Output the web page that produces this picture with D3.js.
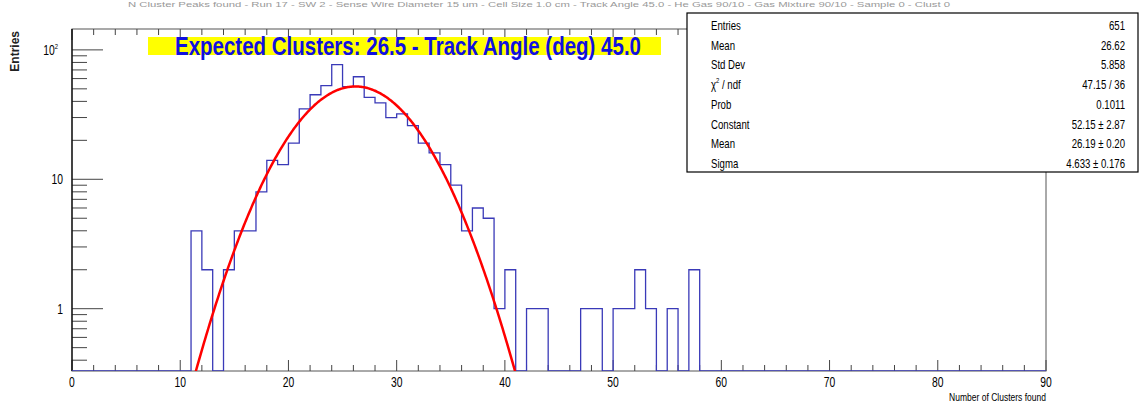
<!DOCTYPE html>
<html>
<head>
<meta charset="utf-8">
<script src="https://cdn.jsdelivr.net/npm/d3@7"></script>
<style>
  body { margin: 0; background: #fff; }
  text { font-family: "Liberation Sans", Arial, sans-serif; }
</style>
</head>
<body>
<div id="chart"></div>
<script>
// histogram: Number of Clusters found, bins of width 1
var firstBin = 11;
var counts = [4, 2, 0, 2, 4, 4, 8, 14, 13, 19, 35, 45, 53, 77, 52, 62, 43, 39, 30, 32,
              26, 19, 16, 13, 9, 4, 6, 5, 1, 2, 0, 1, 1, 0, 0, 0, 1, 1, 0, 1,
              1, 2, 1, 0, 1, 0, 2];

// gaussian fit parameters (from the stats box)
var fitConst = 52.15, fitMean = 26.19, fitSigma = 4.633;
var fitRange = [11, 41];

var xTicks = [0, 10, 20, 30, 40, 50, 60, 70, 80, 90];
var yMajor = [1, 10, 100];
var yLabels = ["1", "10", "10"];

var statLabels = ["Entries", "Mean", "Std Dev", "chi", "Prob", "Constant", "Mean", "Sigma"];
var statValues = ["651", "26.62", "5.858", "47.15 / 36", "0.1011", "52.15 \u00b1 2.87", "26.19 \u00b1 0.20", "4.633 \u00b1 0.176"];

var titleText = "N Cluster Peaks found - Run 17 - SW 2 - Sense Wire Diameter 15 um - Cell Size 1.0 cm - Track Angle 45.0 - He Gas 90/10 - Gas Mixture 90/10 - Sample 0 - Clust 0";
var boxText = "Expected Clusters: 26.5 - Track Angle (deg) 45.0";

var W = 1142, H = 403;
var SX = 0.74;   // everything in the picture is squeezed sideways

var svg = d3.select("#chart").append("svg")
    .attr("width", W).attr("height", H);

var x = d3.scaleLinear().domain([0, 90]).range([72, 1046]);
var y = d3.scaleLog().domain([0.33, 145]).range([371, 29]);

function label(g, tx, ty, str, size, anchor) {
  return g.append("text")
      .attr("transform", "translate(" + tx + "," + ty + ") scale(" + SX + ",1)")
      .attr("text-anchor", anchor || "start")
      .attr("font-size", size)
      .text(str);
}

// faint title at the very top
svg.append("text")
    .attr("x", 128).attr("y", 7)
    .attr("font-size", 7.5)
    .attr("fill", "#999")
    .attr("textLength", 822)
    .attr("lengthAdjust", "spacingAndGlyphs")
    .text(titleText);

svg.append("clipPath").attr("id", "plot")
  .append("rect")
    .attr("x", 72).attr("y", 29)
    .attr("width", 1046 - 72).attr("height", 371 - 29);

// frame
svg.append("rect")
    .attr("x", 72).attr("y", 29)
    .attr("width", 1046 - 72).attr("height", 371 - 29)
    .attr("style", "fill: none; stroke: #555; stroke-width: 1;");

// x ticks bottom and top
var axes = svg.append("g").attr("style", "stroke: #444; stroke-width: 1;");
d3.range(0, 91, 2).map((v) => {
  var len = (v % 10 == 0) ? 11 : 6;
  axes.append("line")
      .attr("x1", x(v)).attr("x2", x(v))
      .attr("y1", 371).attr("y2", 371 - len);
  axes.append("line")
      .attr("x1", x(v)).attr("x2", x(v))
      .attr("y1", 29).attr("y2", 29 + len);
});

// y ticks (log)
var yMinor = [];
[0.1, 1, 10].map((d) => {
  d3.range(2, 10).map((k) => {
    var v = d * k;
    if (v > 0.33 && v < 145) yMinor.push(v);
  });
});
yMinor.map((v) => {
  axes.append("line")
      .attr("x1", 72).attr("x2", 87)
      .attr("y1", y(v)).attr("y2", y(v));
});
yMajor.map((v) => {
  axes.append("line")
      .attr("x1", 72).attr("x2", 103)
      .attr("y1", y(v)).attr("y2", y(v));
});

svg.append("line")
    .attr("x1", 72).attr("x2", 72)
    .attr("y1", 29).attr("y2", 371)
    .attr("style", "stroke: black; stroke-width: 1.2;");

// tick labels
var tl = svg.append("g");
xTicks.map((v) => {
  label(tl, x(v), 387, String(v), 14, "middle");
});
yMajor.map((v, i) => {
  var t = label(tl, i == 2 ? 58 : 63, y(v) + 5, yLabels[i], 14, "end");
  if (i == 2)
    t.append("tspan").attr("font-size", 8).attr("dy", -6).text("2");
});

// axis titles
label(svg, 1046, 401, "Number of Clusters found", 11.5, "end");
svg.append("text")
    .attr("transform", "translate(19,31) rotate(-90)")
    .attr("text-anchor", "end")
    .attr("font-size", 12)
    .attr("font-weight", "bold")
    .attr("fill", "#222")
    .text("Entries");

// histogram as a step line, empty bins sit on the bottom edge
var bins = d3.range(0, 90).map((i) => {
  var c = (i >= firstBin && i < firstBin + counts.length) ? counts[i - firstBin] : 0;
  return { lo: i, n: c };
});
bins.push({ lo: 90, n: 0 });

var hline = d3.line()
    .x((d) => x(d.lo))
    .y((d) => d.n > 0 ? y(d.n) : y.range()[0])
    .curve(d3.curveStepAfter);

svg.append("path")
    .datum(bins)
    .attr("d", hline)
    .attr("clip-path", "url(#plot)")
    .attr("style", "fill: none; stroke: #3a3ab8; stroke-width: 1.3;");

// gaussian fit curve
var fitX = d3.range(fitRange[0], fitRange[1] + 0.001, 0.1);
var fline = d3.line()
    .x((v) => x(v))
    .y((v) => y(fitConst * Math.exp(-0.5 * Math.pow((v - fitMean) / fitSigma, 2))));

svg.append("path")
    .datum(fitX)
    .attr("d", fline)
    .attr("clip-path", "url(#plot)")
    .attr("style", "fill: none; stroke: #ff0000; stroke-width: 2.5;");

// yellow label
svg.append("rect")
    .attr("x", 148).attr("y", 37)
    .attr("width", 661 - 148).attr("height", 18)
    .attr("fill", "#ffff00");
svg.append("text")
    .attr("x", 175).attr("y", 55)
    .attr("font-size", 25)
    .attr("font-weight", "bold")
    .attr("fill", "#1010e0")
    .attr("textLength", 466)
    .attr("lengthAdjust", "spacingAndGlyphs")
    .text(boxText);

// stats box
var sb = svg.append("g");
sb.append("rect")
    .attr("x", 687).attr("y", 13)
    .attr("width", 1138 - 687).attr("height", 172 - 13)
    .attr("style", "fill: white; stroke: black; stroke-width: 1.2;");

statLabels.map((s, i) => {
  var yy = 30 + i * 19.7;
  if (s == "chi") {
    var t = label(sb, 711, yy, "\u03c7", 13, "start");
    t.append("tspan").attr("font-size", 8).attr("dy", -6).text("2");
    t.append("tspan").attr("dy", 6).text(" / ndf");
  } else {
    label(sb, 711, yy, s, 13, "start");
  }
  label(sb, 1125, yy, statValues[i], 13, "end");
});
</script>
</body>
</html>
